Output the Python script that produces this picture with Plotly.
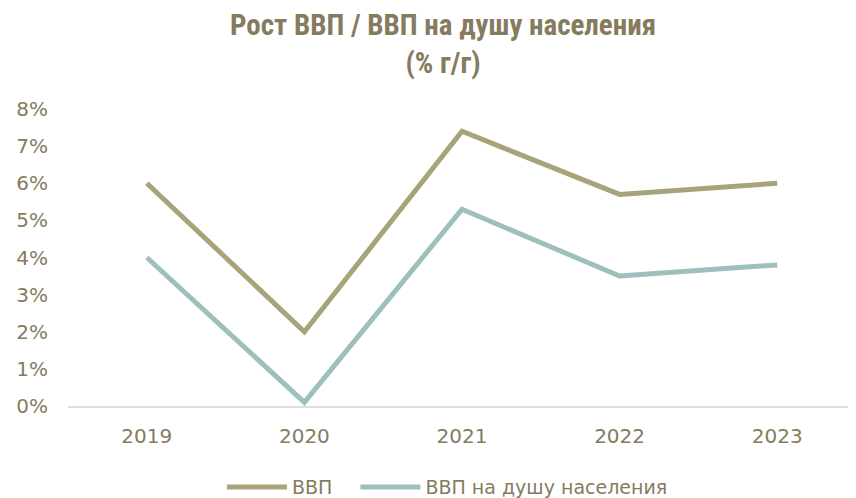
import plotly.graph_objects as go

years = ["2019", "2020", "2021", "2022", "2023"]
gdp = [6.0, 2.0, 7.4, 5.7, 6.0]
gdp_pc = [4.0, 0.1, 5.3, 3.5, 3.8]
y_ticks = [0, 1, 2, 3, 4, 5, 6, 7, 8]
y_labels = [f"{v}%" for v in y_ticks]
series_names = ["ВВП", "ВВП на душу населения"]

text_color = "#857B5E"
fig = go.Figure()
fig.add_trace(go.Scatter(x=years, y=gdp, mode="lines", name=series_names[0] + "\u00a0\u00a0\u00a0",
                         line=dict(color="#A8A47A", width=5)))
fig.add_trace(go.Scatter(x=years, y=gdp_pc, mode="lines", name=series_names[1],
                         line=dict(color="#9DC0BD", width=5)))

# page body has an 8px margin, so the figure is sized to the visible area
fig.update_layout(
    width=848, height=490,
    margin=dict(l=60, r=0, t=101, b=92, autoexpand=False),
    paper_bgcolor="white", plot_bgcolor="white",
    title=dict(text="<b>Рост ВВП / ВВП на душу населения<br>(% г/г)</b>",
               xref="container", yref="container",
               x=0.513, xanchor="center", y=0.944, yanchor="middle",
               font=dict(family="Liberation Sans Narrow, Roboto Condensed, sans-serif", size=29, color="#857B5E")),
    font=dict(family="DejaVu Sans, sans-serif", color=text_color, size=20),
    showlegend=True,
    legend=dict(orientation="h", x=0.4815, xanchor="center", y=-0.273, yanchor="middle",
                font=dict(size=19, color=text_color), itemwidth=60),
)
fig.update_xaxes(type="category", range=[-0.5, 4.5], showgrid=False, showline=True,
                 linecolor="#E3DED5", linewidth=2, ticks="", ticklabelstandoff=11,
                 tickfont=dict(size=20, color=text_color))
fig.update_yaxes(range=[0, 8], tickvals=y_ticks, ticktext=y_labels, showgrid=False,
                 zeroline=False, showline=False, ticklabelstandoff=19,
                 tickfont=dict(size=20, color=text_color))

fig.write_html("out.html")
